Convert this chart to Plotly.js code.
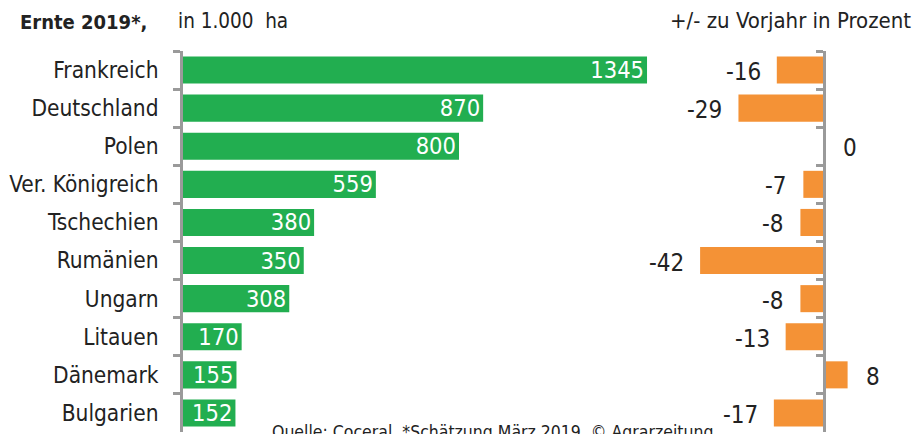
<!DOCTYPE html>
<html>
<head>
<meta charset="utf-8">
<script src="https://cdn.plot.ly/plotly-3.0.1.min.js"></script>
<style>html,body{margin:0;padding:0;background:#fff;overflow:hidden}#chart{width:915px;height:434px}</style>
</head>
<body>
<div id="chart"></div>
<script>
const countries = ["Frankreich","Deutschland","Polen","Ver. Königreich","Tschechien","Rumänien","Ungarn","Litauen","Dänemark","Bulgarien"];
const harvest = [1345, 870, 800, 559, 380, 350, 308, 170, 155, 152];
const change = [-16, -29, 0, -7, -8, -42, -8, -13, 8, -17];
const titleBold = "<b>Ernte 2019*,</b>";
const titleUnit = "in 1.000  ha";
const titleRight = "+/- zu Vorjahr in Prozent";
const sourceText = "Quelle: Coceral, *Schätzung März 2019, © Agrarzeitung";

const W = 915, H = 434;
const FONT = "'DejaVu Sans Condensed', 'Liberation Sans Narrow', Arial, sans-serif";
const green = "#22ae50", orange = "#f49236", gray = "#9a9a9a";

// left plot geometry
const lx0 = 183, lx1 = 700, lscale = 0.345;
// right plot geometry
const rx0 = 690, rx1 = 885, rzero = 824, rscale = 2.95;
const ytop = 51, ybot = 432;

const traces = [
  {type:"bar", orientation:"h", y:countries, x:harvest, xaxis:"x", yaxis:"y",
   marker:{color:green, line:{width:0}}, text:harvest.map(String), textposition:"inside",
   insidetextanchor:"end", textfont:{color:"#fff", size:23.5, family:FONT}, constraintext:"none",
   hoverinfo:"skip", cliponaxis:false},
  {type:"bar", orientation:"h", y:countries, x:change, xaxis:"x2", yaxis:"y2",
   marker:{color:orange, line:{width:0}}, hoverinfo:"skip", cliponaxis:false}
];

const ydom = [(H-ybot)/H, (H-ytop)/H];
const annotations = [
  {text:titleBold, xref:"paper", yref:"paper", x:18/W, y:1-8/H, xanchor:"left", yanchor:"top", showarrow:false,
   font:{size:20, family:FONT, color:"#222"}},
  {text:titleUnit, xref:"paper", yref:"paper", x:176/W, y:1-7/H, xanchor:"left", yanchor:"top", showarrow:false,
   font:{size:20.5, family:FONT, color:"#222"}},
  {text:titleRight, xref:"paper", yref:"paper", x:913/W, y:1-6/H, xanchor:"right", yanchor:"top", showarrow:false,
   font:{size:22, family:FONT, color:"#222"}},
  {text:sourceText, xref:"paper", yref:"paper", x:270/W, y:1-420/H, xanchor:"left", yanchor:"top", showarrow:false,
   font:{size:17.5, family:FONT, color:"#222"}}
];
change.forEach((v, i) => {
  annotations.push({text:String(v), xref:"x2", yref:"y2", x:v, y:countries[i], showarrow:false,
    xanchor: v < 0 ? "right" : "left", xshift: v < 0 ? -14 : (v === 0 ? 17 : 16), yshift:-2,
    font:{size:24, family:FONT, color:"#222"}});
});

const layout = {
  width:W, height:H, margin:{l:0,r:0,t:0,b:0}, paper_bgcolor:"#fff", plot_bgcolor:"#fff",
  showlegend:false, bargap:0.29, font:{family:FONT, color:"#222"},
  xaxis:{domain:[lx0/W, lx1/W], range:[0,(lx1-lx0)/lscale], visible:false, anchor:"y"},
  yaxis:{domain:ydom, autorange:"reversed", anchor:"x", showline:true, linecolor:gray, linewidth:3,
         ticks:"outside", tickson:"boundaries", ticklen:7, tickwidth:3, tickcolor:gray,
         tickfont:{size:22.5, family:FONT, color:"#222"}, ticklabelstandoff:17, showgrid:false, zeroline:false, fixedrange:true},
  xaxis2:{domain:[rx0/W, rx1/W], range:[-(rzero-rx0)/rscale, (rx1-rzero)/rscale], visible:false, anchor:"y2"},
  yaxis2:{domain:ydom, autorange:"reversed", anchor:"free", position:rzero/W, side:"left", showline:true, linecolor:gray, linewidth:3,
          ticks:"outside", tickson:"boundaries", ticklen:7, tickwidth:3, tickcolor:gray,
          showticklabels:false, showgrid:false, zeroline:false},
  annotations: annotations
};
Plotly.newPlot("chart", traces, layout, {staticPlot:true, displayModeBar:false});
</script>
</body>
</html>
